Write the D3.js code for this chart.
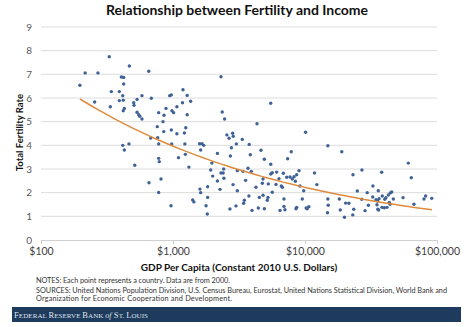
<!DOCTYPE html>
<html>
<head>
<meta charset="utf-8">
<script src="https://cdn.jsdelivr.net/npm/d3@7"></script>
<style>
  body { margin: 0; background: #fff; }
  svg { display: block; font-family: Lato, "Liberation Sans", sans-serif; }
</style>
</head>
<body>
<svg id="chart" width="468" height="327"></svg>
<script>
// GDP per capita (constant 2010 US$) and total fertility rate, one entry per country
var gdp = [
  197, 216, 270, 329, 467, 655, 406, 423, 423, 341, 392, 416, 582, 685, 255, 392, 420, 534, 504, 507,
  335, 428, 420, 534, 550, 560, 582, 779, 760, 678, 766, 779, 416, 464, 428, 513, 658, 779, 779, 787,
  2310, 1190, 1280, 944, 971, 1360, 1180, 1070, 885, 855, 982, 1010, 1280, 2360, 2460, 840, 971, 851, 1250, 1070,
  1220, 2560, 2830, 2860, 2660, 3350, 978, 1230, 1590, 1660, 1710, 3020, 2770, 1620, 2170, 1240, 1100, 2720, 1320, 1970,
  1930, 2310, 2400, 2420, 2000, 2430, 2170, 3070, 3390, 811, 2850, 1830, 2270, 1600, 1620, 3070, 1830, 1410, 1440, 3470,
  3430, 966, 1780, 3000, 2700, 1820,
  5500, 4330, 10100, 3780, 14900, 3850, 4640, 4920, 7870, 7390, 5500, 3700, 3920, 3550, 4810, 5500, 5650, 6100, 6850, 7270,
  7700, 8010, 8260, 8650, 9010, 11800, 6350, 8450, 9160, 12300, 4250, 4750, 5270, 6030, 6610, 6740, 9780, 3760, 4510, 4810,
  5240, 5650, 5180, 6930, 9540, 14900, 18200, 4430, 4920, 6930, 7050, 6470, 8550, 8650, 10200, 10400, 10700, 15000, 14800, 3970,
  19000, 60600, 63900, 23100, 27000, 38100, 24900, 29600, 32700, 35900, 26900, 20300, 21500, 32600, 34500, 35400, 36400, 38500, 40200, 41000,
  42800, 44300, 45400, 46700, 43500, 44100, 55300, 79700, 82000, 91200, 66900, 30200, 35100, 35600, 38300, 39900, 41800, 18500, 23400, 28500,
  36100, 23000, 19900
];
var tfr = [
  6.54, 7.06, 7.06, 7.74, 7.35, 7.13, 6.89, 6.87, 6.59, 6.27, 6.27, 6.10, 6.10, 5.99, 5.83, 5.89, 5.91, 5.94, 5.80, 5.69,
  5.63, 5.56, 5.46, 5.40, 5.29, 5.23, 5.11, 5.38, 4.79, 4.31, 4.32, 4.06, 4.00, 4.06, 3.80, 3.16, 2.42, 2.01, 3.45, 3.31,
  6.90, 6.35, 6.11, 6.10, 6.13, 5.86, 5.80, 5.63, 5.56, 5.27, 5.46, 5.38, 5.29, 5.41, 5.11, 5.00, 4.65, 4.58, 4.74, 4.49,
  4.52, 4.44, 4.51, 4.38, 4.30, 4.25, 4.06, 4.06, 4.07, 4.07, 4.00, 4.06, 3.90, 3.80, 3.66, 3.62, 3.48, 3.55, 3.08, 3.25,
  2.96, 2.83, 2.83, 3.00, 2.70, 2.61, 2.49, 2.93, 2.90, 2.58, 2.34, 2.25, 2.14, 2.15, 2.00, 2.08, 1.80, 1.69, 1.61, 1.68,
  1.55, 1.45, 1.45, 1.44, 1.31, 1.10,
  5.78, 4.91, 4.55, 4.04, 3.98, 3.60, 3.79, 3.41, 3.73, 3.43, 3.20, 3.03, 2.90, 2.52, 2.58, 2.79, 2.84, 2.87, 2.82, 2.65,
  2.66, 2.58, 2.67, 2.76, 2.93, 2.83, 2.59, 2.48, 2.28, 2.34, 2.23, 2.40, 2.37, 2.35, 2.28, 2.23, 2.08, 1.86, 1.80, 1.89,
  1.80, 2.02, 1.68, 1.73, 1.73, 1.73, 1.73, 1.35, 1.32, 1.42, 1.28, 1.25, 1.32, 1.38, 1.35, 1.32, 1.41, 1.47, 1.15, 1.25,
  3.73, 3.25, 2.63, 2.76, 2.96, 2.86, 2.07, 2.00, 2.28, 2.08, 1.72, 1.56, 1.55, 1.82, 1.70, 1.65, 1.74, 1.86, 1.72, 1.79,
  1.90, 1.99, 2.03, 1.73, 1.59, 1.51, 1.79, 1.73, 1.86, 1.76, 1.51, 1.47, 1.49, 1.30, 1.38, 1.36, 1.38, 1.27, 1.30, 1.24,
  1.27, 1.06, 0.96
];

// power trendline (tfr = a * gdp^b) as shown on the chart
var trendA = 22.45, trendB = -0.251, trendFrom = 197, trendTo = 91600;

var xTicks = [100, 1000, 10000, 100000];
var yTicks = [0, 1, 2, 3, 4, 5, 6, 7, 8, 9];

var title = "Relationship between Fertility and Income";
var xTitle = "GDP Per Capita (Constant  2010 U.S. Dollars)";
var yTitle = "Total Fertility Rate";
var notes = [
  "NOTES: Each point represents a country. Data are from 2000.",
  "SOURCES: United Nations Population Division, U.S. Census Bureau, Eurostat, United Nations Statistical Division, World Bank and",
  "Organization for Economic Cooperation and Development."
];
var notesWidth = [194, 411, 196];

var svg = d3.select("#chart"),
    margin = {top: 27, right: 31, bottom: 87, left: 41},
    width = +svg.attr("width") - margin.left - margin.right,
    height = +svg.attr("height") - margin.top - margin.bottom,
    g = svg.append("g").attr("transform", "translate(" + margin.left + "," + margin.top + ")");

var x = d3.scaleLog().domain([100, 100000]).range([0, width]);
var y = d3.scaleLinear().domain([0, 9]).range([height, 0]);

// gridlines
g.append("g")
  .selectAll("line")
  .data(yTicks.slice(1))
  .enter().append("line")
    .attr("x1", 0).attr("x2", width)
    .attr("y1", function(d) { return y(d); })
    .attr("y2", function(d) { return y(d); })
    .attr("stroke", "#dcdcdc")
    .attr("stroke-width", 1);

// x axis
var xAxis = g.append("g")
    .attr("transform", "translate(0," + height + ")")
    .call(d3.axisBottom(x).tickValues(xTicks).tickSize(4).tickPadding(4)
      .tickFormat(function(d) { return "$" + d3.format(",")(d); }));
xAxis.select(".domain").attr("stroke", "#d0d0d0");
xAxis.selectAll(".tick line").attr("stroke", "#d0d0d0");
xAxis.selectAll("text").attr("fill", "#404040").attr("font-size", "10.5px")
    .attr("font-family", "Lato, sans-serif");

// y axis
var yAxis = g.append("g")
    .call(d3.axisLeft(y).tickValues(yTicks).tickSize(0).tickPadding(9));
yAxis.select(".domain").remove();
yAxis.selectAll("text").attr("fill", "#595959").attr("font-size", "10px")
    .attr("font-family", "Lato, sans-serif");

// points
g.append("g")
  .selectAll("circle")
  .data(gdp.map(function(v, i) { return {gdp: v, tfr: tfr[i]}; }))
  .enter().append("circle")
    .attr("cx", function(d) { return x(d.gdp); })
    .attr("cy", function(d) { return y(d.tfr); })
    .attr("r", 1.7)
    .attr("fill", "#3f6296");

// trendline
var trendPts = d3.range(0, 61).map(function(i) {
  var v = Math.exp(Math.log(trendFrom) + (Math.log(trendTo) - Math.log(trendFrom)) * i / 60);
  return [v, trendA * Math.pow(v, trendB)];
});
g.append("path")
    .datum(trendPts)
    .attr("fill", "none")
    .attr("stroke", "#df8b3c")
    .attr("stroke-width", 1.5)
    .attr("d", d3.line().x(function(d) { return x(d[0]); }).y(function(d) { return y(d[1]); }));

// titles
svg.append("text")
    .attr("x", 237).attr("y", 15)
    .attr("text-anchor", "middle")
    .attr("font-weight", "bold")
    .attr("font-size", "14px")
    .attr("fill", "#111")
    .text(title);

svg.append("text")
    .attr("x", 239).attr("y", 271)
    .attr("text-anchor", "middle")
    .attr("font-weight", "bold")
    .attr("font-size", "10px")
    .attr("fill", "#111")
    .text(xTitle);

svg.append("text")
    .attr("transform", "translate(23," + (margin.top + height / 2 - 1) + ") rotate(-90)")
    .attr("text-anchor", "middle")
    .attr("font-weight", "bold")
    .attr("font-size", "9.5px")
    .attr("fill", "#111")
    .text(yTitle);

// notes
svg.append("g")
  .selectAll("text")
  .data(notes)
  .enter().append("text")
    .attr("x", 36)
    .attr("y", function(d, i) { return [283, 292.5, 300.5][i]; })
    .attr("font-size", "7.3px")
    .attr("fill", "#333")
    .attr("textLength", function(d, i) { return notesWidth[i]; })
    .text(function(d) { return d; });

// footer banner
svg.append("rect")
    .attr("x", 12).attr("y", 307)
    .attr("width", 449).attr("height", 15)
    .attr("fill", "#1e3a5c");

var foot = svg.append("text")
    .attr("x", 14).attr("y", 317.5)
    .attr("font-family", "'Liberation Serif', 'DejaVu Serif', serif")
    .attr("font-size", "7px")
    .attr("fill", "#dfe5ee")
    .attr("textLength", 134);
foot.append("tspan").text("F").attr("font-size", "8.5px");
foot.append("tspan").text("EDERAL ");
foot.append("tspan").text("R").attr("font-size", "8.5px");
foot.append("tspan").text("ESERVE ");
foot.append("tspan").text("B").attr("font-size", "8.5px");
foot.append("tspan").text("ANK ");
foot.append("tspan").text("of").attr("font-style", "italic").attr("font-size", "8px");
foot.append("tspan").text(" S").attr("font-size", "8.5px");
foot.append("tspan").text("T. ");
foot.append("tspan").text("L").attr("font-size", "8.5px");
foot.append("tspan").text("OUIS");
</script>
</body>
</html>
